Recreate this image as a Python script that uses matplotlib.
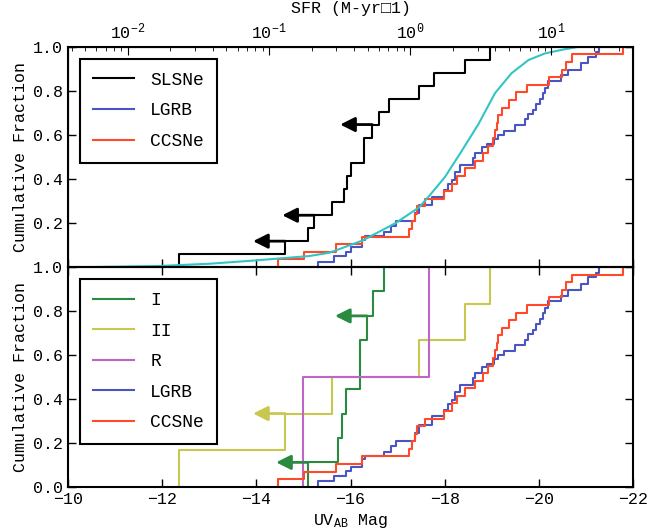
import numpy as np
import matplotlib
matplotlib.use("Agg")
import matplotlib.pyplot as plt

plt.rcParams['font.family'] = ['Liberation Mono', 'DejaVu Sans']
plt.rcParams['mathtext.fontset'] = 'custom'
plt.rcParams['mathtext.rm'] = 'Liberation Mono'
plt.rcParams['mathtext.it'] = 'Liberation Mono'
plt.rcParams['font.size'] = 12

# UV absolute magnitudes of each host sample
slsne_mag = [-12.35, -14.61, -15.10, -15.23, -15.61, -15.86, -15.92, -16.00, -16.29,
             -16.29, -16.46, -16.60, -16.81, -17.45, -17.77, -18.44, -18.97]
slsne_lim = [1, 3, 10]          # upper limits (index in sorted list)

type1_mag = [-15.10, -15.74, -15.82, -15.90, -16.20, -16.20, -16.35, -16.48, -16.71]
type1_lim = [0, 6]
type2_mag = [-12.35, -14.61, -15.61, -17.45, -18.44, -18.97]
type2_lim = [1]
typer_mag = [-15.00, -17.66]

ccsne_mag = [-14.45, -15.02, -15.69, -16.24, -17.24, -17.31, -17.36, -17.41, -17.59,
             -17.98, -18.15, -18.26, -18.44, -18.65, -18.82, -18.93, -19.02, -19.07,
             -19.12, -19.14, -19.21, -19.36, -19.52, -19.75, -20.22, -20.49, -20.57,
             -20.70, -21.78]

lgrb_mag = [-15.30, -15.65, -15.90, -16.00, -16.25, -16.30, -16.71, -16.85, -16.96,
            -17.38, -17.45, -17.73, -17.98, -18.08, -18.15, -18.22, -18.33, -18.61,
            -18.65, -18.79, -18.90, -19.04, -19.14, -19.25, -19.50, -19.71, -19.78,
            -19.88, -19.95, -20.02, -20.08, -20.13, -20.20, -20.48, -20.62, -20.90,
            -21.04, -21.22, -21.28]
lgrb_frac = [0.025, 0.05, 0.07, 0.09, 0.125, 0.14, 0.16, 0.185, 0.21,
             0.245, 0.28, 0.32, 0.35, 0.375, 0.395, 0.43, 0.465, 0.495,
             0.52, 0.545, 0.56, 0.58, 0.60, 0.62, 0.645, 0.67, 0.695,
             0.715, 0.74, 0.765, 0.79, 0.815, 0.845, 0.87, 0.895, 0.925,
             0.955, 0.975, 1.0]

# SFR-weighted model curve
model_mag = [-10.5, -11.95, -13.0, -13.97, -15.12, -15.55, -16.25, -16.96, -17.45,
             -17.66, -18.01, -18.37, -18.72, -19.07, -19.42, -19.78, -20.13, -20.48,
             -20.84, -22.0]
model_frac = [0.0, 0.005, 0.015, 0.03, 0.05, 0.065, 0.12, 0.20, 0.27,
              0.32, 0.41, 0.53, 0.65, 0.79, 0.88, 0.94, 0.97, 0.986,
              1.0, 1.0]

c_black = 'black'
c_blue = '#4a55c4'
c_red = '#ff4a2a'
c_cyan = '#33c4c4'
c_green = '#2a8a40'
c_yellow = '#c8c850'
c_mag = '#c065c8'


def cdf(mags):
    m = np.sort(np.array(mags))[::-1]
    f = np.arange(1, len(m) + 1) / len(m)
    return m, f


def step(ax, m, f, color, label):
    x = np.concatenate([[m[0]], m])
    y = np.concatenate([[0.0], f])
    ax.plot(x, y, drawstyle='steps-post', color=color, lw=1.5, label=label)


def limits(ax, m, f, idx, color):
    for i in idx:
        ax.annotate('', xy=(m[i] + 0.68, f[i]), xytext=(m[i], f[i]),
                    arrowprops=dict(arrowstyle='-|>', color=color, lw=2,
                                    mutation_scale=22, shrinkA=0, shrinkB=0))


fig = plt.figure(figsize=(6.67, 5.32), dpi=100)
ax1 = fig.add_axes([0.102, 0.498, 0.847, 0.414])
ax2 = fig.add_axes([0.102, 0.085, 0.847, 0.413])

m, f = cdf(slsne_mag)
step(ax1, m, f, c_black, 'SLSNe')
limits(ax1, m, f, slsne_lim, c_black)
step(ax1, np.array(lgrb_mag), np.array(lgrb_frac), c_blue, 'LGRB')
m, f = cdf(ccsne_mag)
step(ax1, m, f, c_red, 'CCSNe')
ax1.plot(model_mag, model_frac, color=c_cyan, lw=1.5)

m, f = cdf(type1_mag)
step(ax2, m, f, c_green, 'I')
limits(ax2, m, f, type1_lim, c_green)
m, f = cdf(type2_mag)
step(ax2, m, f, c_yellow, 'II')
limits(ax2, m, f, type2_lim, c_yellow)
m, f = cdf(typer_mag)
step(ax2, m, f, c_mag, 'R')
step(ax2, np.array(lgrb_mag), np.array(lgrb_frac), c_blue, 'LGRB')
m, f = cdf(ccsne_mag)
step(ax2, m, f, c_red, 'CCSNe')

for ax in (ax1, ax2):
    ax.set_xlim(-10, -22)
    ax.set_ylim(0, 1)
    ax.set_xticks(np.arange(-10, -23, -2))
    ax.tick_params(direction='in', right=True, length=6, width=1, labelsize=12)
    for s in ax.spines.values():
        s.set_linewidth(1.5)
    ax.set_ylabel('Cumulative Fraction', fontsize=12)
    leg = ax.legend(loc='upper left', fontsize=13, handlelength=2.3, handletextpad=0.9,
                    labelspacing=0.75, borderpad=0.7, fancybox=False, framealpha=1,
                    edgecolor='black', bbox_to_anchor=(0.005, 0.985))
    leg.get_frame().set_linewidth(1.5)

ax1.set_yticks([0.2, 0.4, 0.6, 0.8, 1.0])
ax1.tick_params(labelbottom=False, top=False)
ax2.set_yticks([0.0, 0.2, 0.4, 0.6, 0.8, 1.0])
ax2.tick_params(top=True)
ax2.set_xlabel(r'UV$_{\mathrm{AB}}$ Mag', fontsize=12)

# SFR axis on top (about 3 mag per decade)
top = ax1.twiny()
top.set_xscale('log')
top.set_xlim(10 ** -2.423, 10 ** 1.577)
top.tick_params(which='both', direction='in', labelsize=12)
top.tick_params(which='major', length=6)
top.tick_params(which='minor', length=3)
top.set_xlabel('SFR (M-yr\u25a11)', fontsize=12, labelpad=6)

fig.savefig('out.png', dpi=100)
